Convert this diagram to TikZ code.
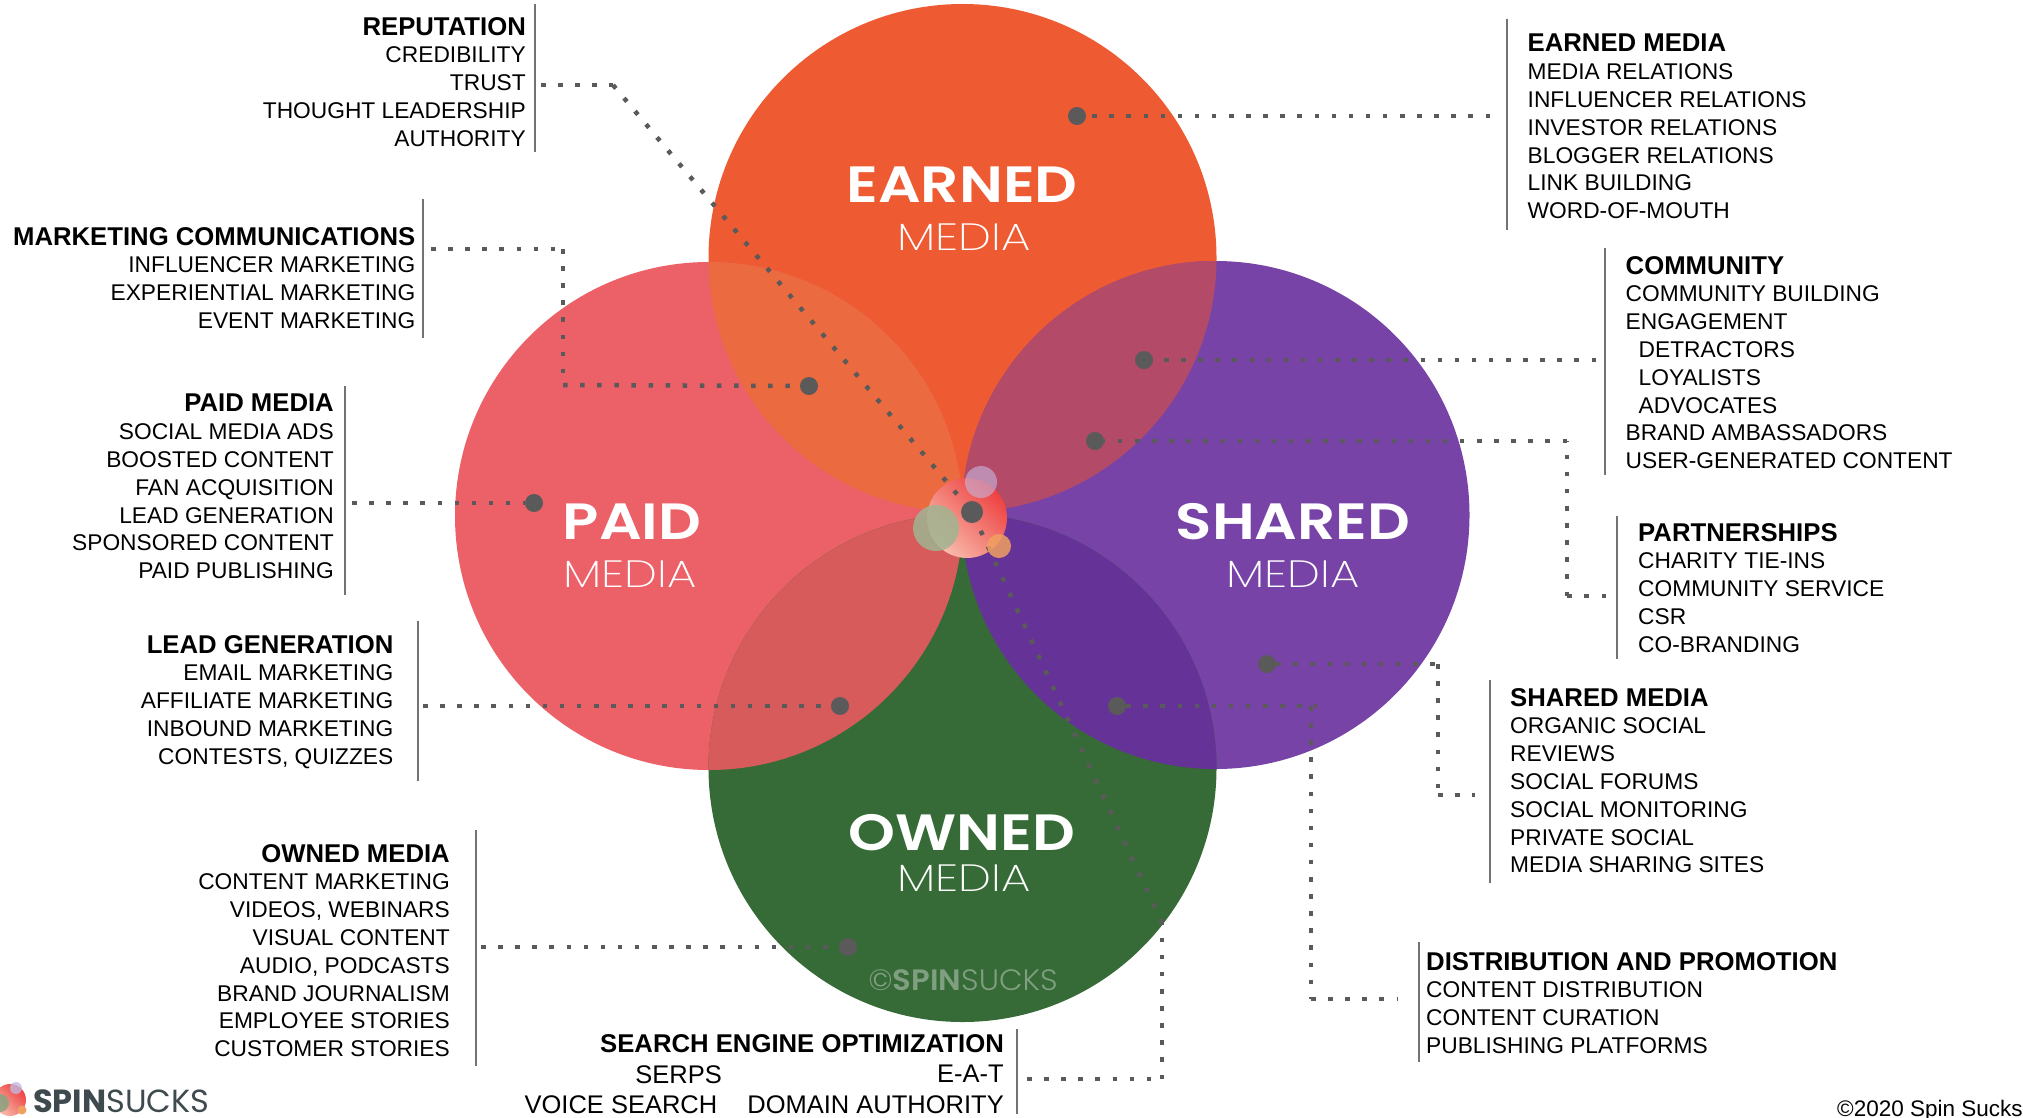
\documentclass[tikz,border=0pt]{standalone}
\usepackage{fontspec}
\setmainfont{Liberation Sans}
\newfontfamily\popfont{Poppins}
\newfontfamily\popsemi[FakeStretch=1.17]{Poppins SemiBold}
\newfontfamily\poplight[FakeStretch=1.23]{Poppins ExtraLight}
\newfontfamily\popmark[FakeStretch=1.04]{Poppins Light}
\newfontfamily\popmarkb[FakeStretch=1.04]{Poppins SemiBold}
\definecolor{cearned}{HTML}{EE5A32}
\definecolor{cpaid}{HTML}{EC6068}
\definecolor{cshared}{HTML}{7843A6}
\definecolor{cowned}{HTML}{366B37}
\definecolor{cep}{HTML}{EC6A3F}
\definecolor{ces}{HTML}{B34B68}
\definecolor{cso}{HTML}{653297}
\definecolor{cop}{HTML}{D85B5C}
\definecolor{dotc}{HTML}{5A5A5A}
\definecolor{blobhi}{HTML}{EE4040}
\definecolor{bloblo}{HTML}{F8BCAC}
\definecolor{satgreen}{HTML}{A0B490}
\definecolor{satlav}{HTML}{C4B8E0}
\definecolor{satorg}{HTML}{F0A060}
\definecolor{clogo}{HTML}{3F4A4F}
\definecolor{cmark}{HTML}{7F9F80}
\tikzset{x=1pt,y=-1pt,
 leader/.style={draw=dotc,line width=4.5pt,dash pattern=on 4.5pt off 12.6pt},
 hubdot/.style={circle,fill=dotc,inner sep=0pt,minimum size=18pt},
 listrule/.style={draw=black!55,line width=1.4pt},
 listr/.style={anchor=north east,align=right,inner sep=0pt,font=\fontsize{22.75}{27.8}\selectfont},
 listl/.style={anchor=north west,align=left,inner sep=0pt,font=\fontsize{22.75}{27.8}\selectfont},
 seoline/.style={anchor=north east,inner sep=0pt,font=\fontsize{25.5}{27.8}\selectfont},
 bigword/.style={text=white,inner sep=0pt,font=\popsemi\fontsize{51}{51}\selectfont},
 subword/.style={text=white,inner sep=0pt,font=\poplight\fontsize{38}{38}\selectfont},
}
\newcommand\ttl[1]{{\fontsize{25.7}{27.8}\selectfont\bfseries #1}}
\begin{document}
\begin{tikzpicture}
\useasboundingbox (0,0) rectangle (2023,1117);
\clip (0,0) rectangle (2023,1117);
% circles
\fill[cearned] (962.5,258) circle[radius=254];
\fill[cpaid] (709,516) circle[radius=254];
\fill[cshared] (1215.5,515) circle[radius=254];
\fill[cowned] (962.5,768) circle[radius=254];
\begin{scope}\clip (962.5,258) circle[radius=254];\fill[cep] (709,516) circle[radius=254];\end{scope}
\begin{scope}\clip (962.5,258) circle[radius=254];\fill[ces] (1215.5,515) circle[radius=254];\end{scope}
\begin{scope}\clip (962.5,768) circle[radius=254];\fill[cso] (1215.5,515) circle[radius=254];\end{scope}
\begin{scope}\clip (962.5,768) circle[radius=254];\fill[cop] (709,516) circle[radius=254];\end{scope}
% centre blob
\shade[shading=axis,top color=bloblo,bottom color=blobhi,shading angle=135] (967,518) circle[radius=40];
% circle captions
\node[bigword] (wEarned) at (962,185) {EARNED};
\node[subword] (sEarned) at (964,237) {MEDIA};
\node[bigword] (wPaid) at (632,522) {PAID};
\node[subword] (sPaid) at (630,574) {MEDIA};
\node[bigword] (wShared) at (1293,522) {SHARED};
\node[subword] (sShared) at (1293,574) {MEDIA};
\node[bigword] (wOwned) at (962,833) {OWNED};
\node[subword] (sOwned) at (964,878) {MEDIA};
\node[inner sep=0pt,text=cmark,font=\popmark\fontsize{29.5}{29.5}\selectfont] (wCopy) at (963,980) {©{\popmarkb SPIN}SUCKS};
% hub dots
\node[hubdot] (dEarned) at (1077,116) {};
\node[hubdot] (dMkt) at (809,386) {};
\node[hubdot] (dComm) at (1144,360) {};
\node[hubdot] (dPart) at (1095,441) {};
\node[hubdot] (dPaid) at (534,503) {};
\node[hubdot] (dLead) at (840,706) {};
\node[hubdot] (dDist) at (1117,706) {};
\node[hubdot] (dShared) at (1267,664) {};
\node[hubdot] (dOwned) at (848,947) {};
\node[hubdot,minimum size=22pt] (dHub) at (972,512) {};
% free ends
\coordinate (eRep) at (541,85);
\coordinate (cRep) at (613,85);
\coordinate (eSeo) at (1027,1079);
\coordinate (cSeoA) at (1162,1079);
\coordinate (cSeoB) at (1162,923);
\coordinate (eMkt) at (431,249);
\coordinate (cMktA) at (563,249);
\coordinate (cMktB) at (563,385);
\coordinate (ePaid) at (352,503);
\coordinate (eLead) at (423,706);
\coordinate (eOwned) at (481,947);
\coordinate (eEarned) at (1490,116);
\coordinate (eComm) at (1596,360);
\coordinate (ePart) at (1606,596);
\coordinate (cPartA) at (1567,596);
\coordinate (cPartB) at (1567,441);
\coordinate (eShared) at (1475,795);
\coordinate (cSharedA) at (1438,795);
\coordinate (cSharedB) at (1438,664);
\coordinate (eDist) at (1398,999);
\coordinate (cDistA) at (1311,999);
\coordinate (cDistB) at (1311,706);
\coordinate (cDistC) at (1317,706);
% connectors
\draw[leader] (eRep) -- (cRep);
\draw[leader] (cRep) -- (dHub);
\draw[leader] (eSeo) -- (cSeoA);
\draw[leader] (cSeoA) -- (cSeoB);
\draw[leader] (cSeoB) -- (dHub);
\draw[leader] (eMkt) -- (cMktA);
\draw[leader] (cMktA) -- (cMktB);
\draw[leader] (cMktB) -- (dMkt);
\draw[leader] (ePaid) -- (dPaid);
\draw[leader] (eLead) -- (dLead);
\draw[leader] (eOwned) -- (dOwned);
\draw[leader] (eEarned) -- (dEarned);
\draw[leader] (eComm) -- (dComm);
\draw[leader] (ePart) -- (cPartA);
\draw[leader] (cPartA) -- (cPartB);
\draw[leader] (cPartB) -- (dPart);
\draw[leader] (dShared) -- (cSharedB);
\draw[leader] (cSharedB) -- (cSharedA);
\draw[leader] (cSharedA) -- (eShared);
\draw[leader] (dDist) -- (cDistC);
\draw[leader] (cDistB) -- (cDistA);
\draw[leader] (cDistA) -- (eDist);
% satellites
\fill[satgreen,opacity=.85] (936,528) circle[radius=23];
\fill[satlav,opacity=.6] (981,482) circle[radius=16];
\fill[satorg,opacity=.85] (999,546) circle[radius=12];
% list rules
\draw[listrule] (535,4) -- (535,152);
\draw[listrule] (423,199) -- (423,338);
\draw[listrule] (345,386) -- (345,595);
\draw[listrule] (418,621) -- (418,781);
\draw[listrule] (476,830) -- (476,1066);
\draw[listrule] (1017,1029) -- (1017,1114);
\draw[listrule] (1419,942) -- (1419,1062);
\draw[listrule] (1490,680) -- (1490,883);
\draw[listrule] (1507,19) -- (1507,230);
\draw[listrule] (1605,248) -- (1605,475);
\draw[listrule] (1617,516) -- (1617,659);
% lists
\node[listr] (tRep) at (526,17) {\ttl{REPUTATION}\\CREDIBILITY\\TRUST\\THOUGHT LEADERSHIP\\AUTHORITY};
\node[listr] (tMkt) at (415.5,227) {\ttl{MARKETING COMMUNICATIONS}\\INFLUENCER MARKETING\\EXPERIENTIAL MARKETING\\EVENT MARKETING};
\node[listr] (tPaid) at (334,394) {\ttl{PAID MEDIA}\\SOCIAL MEDIA ADS\\BOOSTED CONTENT\\FAN ACQUISITION\\LEAD GENERATION\\SPONSORED CONTENT\\PAID PUBLISHING};
\node[listr] (tLead) at (393.5,635) {\ttl{LEAD GENERATION}\\EMAIL MARKETING\\AFFILIATE MARKETING\\INBOUND MARKETING\\CONTESTS, QUIZZES};
\node[listr] (tOwned) at (450,844) {\ttl{OWNED MEDIA}\\CONTENT MARKETING\\VIDEOS, WEBINARS\\VISUAL CONTENT\\AUDIO, PODCASTS\\BRAND JOURNALISM\\EMPLOYEE STORIES\\CUSTOMER STORIES};
\node[seoline] (tSeo) at (1004,1034) {\ttl{SEARCH ENGINE OPTIMIZATION}};
\node[seoline] (tSerps) at (722,1065) {SERPS};
\node[seoline] (tEat) at (1004,1065) {E-A-T};
\node[seoline] (tVoice) at (717.5,1095) {VOICE SEARCH};
\node[seoline] (tDom) at (1004,1095) {DOMAIN AUTHORITY};
\node[listl] (tEarned) at (1527.5,34) {\ttl{EARNED MEDIA}\\MEDIA RELATIONS\\INFLUENCER RELATIONS\\INVESTOR RELATIONS\\BLOGGER RELATIONS\\LINK BUILDING\\WORD-OF-MOUTH};
\node[listl] (tComm) at (1625.5,256) {\ttl{COMMUNITY}\\COMMUNITY BUILDING\\ENGAGEMENT\\\hspace*{13pt}DETRACTORS\\\hspace*{13pt}LOYALISTS\\\hspace*{13pt}ADVOCATES\\BRAND AMBASSADORS\\USER-GENERATED CONTENT};
\node[listl] (tPart) at (1638,523) {\ttl{PARTNERSHIPS}\\CHARITY TIE-INS\\COMMUNITY SERVICE\\CSR\\CO-BRANDING};
\node[listl] (tShared) at (1510,688) {\ttl{SHARED MEDIA}\\ORGANIC SOCIAL\\REVIEWS\\SOCIAL FORUMS\\SOCIAL MONITORING\\PRIVATE SOCIAL\\MEDIA SHARING SITES};
\node[listl] (tDist) at (1426,952) {\ttl{DISTRIBUTION AND PROMOTION}\\CONTENT DISTRIBUTION\\CONTENT CURATION\\PUBLISHING PLATFORMS};
\node[anchor=base west,inner sep=0pt,font=\fontsize{22.5}{22.5}\selectfont] (tCopy) at (1837,1116.5) {©2020 Spin Sucks};
% logo
\shade[shading=axis,top color=bloblo,bottom color=blobhi,shading angle=135] (10,1100) circle[radius=16];
\fill[satgreen!90!black,opacity=.9] (0,1103) circle[radius=9];
\fill[satlav,opacity=.8] (16,1088) circle[radius=6];
\fill[satorg] (22,1110) circle[radius=4.5];
\node[anchor=west,inner sep=0pt,text=clogo,font=\popfont\fontsize{32}{32}\selectfont] (tLogo) at (33,1101) {\textbf{SPIN}SUCKS};
\end{tikzpicture}
\end{document}
